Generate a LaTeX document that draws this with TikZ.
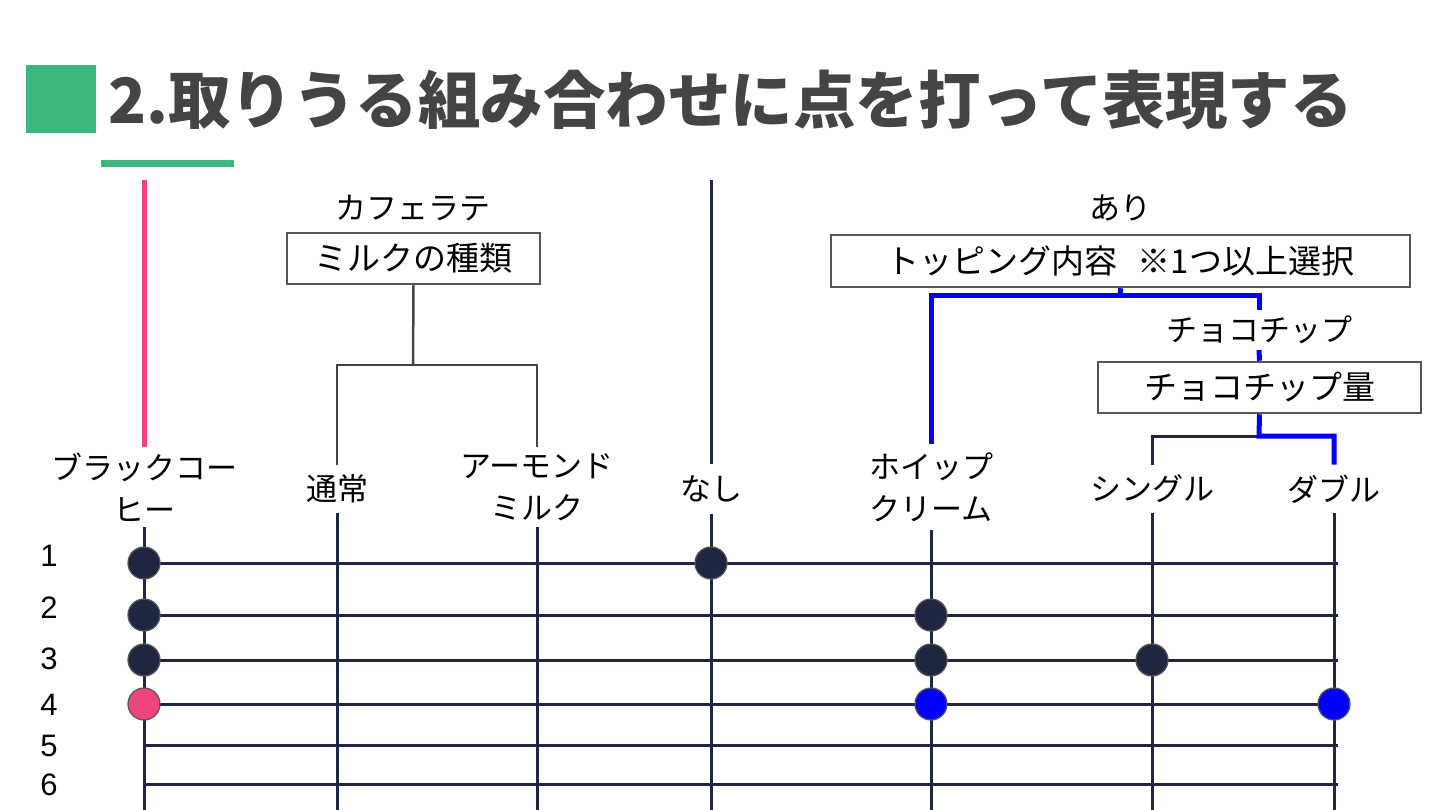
\documentclass[tikz,border=0pt]{standalone}
\usepackage{fontspec}
\newfontfamily\jp{Noto Sans CJK JP}
\newfontfamily\num{Liberation Sans}
\definecolor{tgreen}{RGB}{59,183,126}
\definecolor{tgray}{RGB}{68,68,68}
\definecolor{navy}{RGB}{30,38,64}
\definecolor{bpink}{RGB}{240,68,124}
\definecolor{bblue}{RGB}{0,0,255}
\definecolor{boxgray}{RGB}{85,85,85}
\begin{document}
\begin{tikzpicture}[x=1pt,y=-1pt,
  lbl/.style={font=\jp\fontsize{31}{42}\selectfont,inner sep=0pt,align=center,text=black},
  numlbl/.style={font=\num\fontsize{31}{31}\selectfont,inner sep=0pt,text=black},
  catbox/.style={draw=boxgray,line width=2.5pt,fill=white,font=\jp\fontsize{33}{36}\selectfont,inner sep=0pt,text=black},
  col/.style={draw=navy,line width=3pt},
  rowline/.style={draw=navy,line width=3pt},
  tree/.style={draw=tgray,line width=2.5pt},
  bluepath/.style={draw=bblue,line width=5pt},
  pinkpath/.style={draw=bpink,line width=5pt},
  dot/.style={circle,minimum size=32pt,inner sep=0pt,draw=boxgray,line width=1.2pt,fill=navy},
  pinkdot/.style={dot,fill=bpink},
  bluedot/.style={dot,fill=bblue}]
\useasboundingbox (0,0) rectangle (1440,810);
\fill[white] (0,0) rectangle (1440,810);
% title
\fill[tgreen] (26,65) rectangle (96,133);
\node[anchor=west,inner sep=0pt,font=\jp\bfseries\fontsize{62.5}{62.5}\selectfont,text=tgray] (title) at (108,100) {2.取りうる組み合わせに点を打って表現する};
\fill[tgreen] (101,160) rectangle (234,167);

% labels
\node[lbl,outer sep=6pt] (bc) at (144,487) {ブラックコー\\ヒー};
\node[lbl,outer sep=10pt] (tsujo) at (337,489) {通常};
\node[lbl,outer sep=6pt] (almond) at (537,487) {アーモンド\\ミルク};
\node[lbl,outer sep=12pt] (nashi) at (711,489) {なし};
\node[lbl,outer sep=8pt] (whip) at (931,487) {ホイップ\\クリーム};
\node[lbl,outer sep=10pt] (single) at (1152,489) {シングル};
\node[lbl,outer sep=10pt] (double) at (1334,489) {ダブル};
\node[lbl] (cafe) at (413,208) {カフェラテ};
\node[lbl] (ari) at (1120,208) {あり};
\node[lbl,outer sep=6pt] (choco) at (1259,330) {チョコチップ};

% boxes
\node[catbox,minimum width=253pt,minimum height=51pt] (milk) at (413.5,258.5) {ミルクの種類};
\node[catbox,minimum width=579pt,minimum height=52pt] (topping) at (1120.5,261) {トッピング内容\hspace{20pt}※1つ以上選択};
\node[catbox,minimum width=323pt,minimum height=51pt] (amount) at (1259.5,387.5) {チョコチップ量};

% coordinates
\coordinate (ctop) at (711,180);
\coordinate (ptop) at (144,180);
\coordinate (mj) at (413,365);
\coordinate (ml) at (337,365);
\coordinate (mr) at (537,365);
\coordinate (tj) at (1120,296);
\coordinate (tl) at (931,296);
\coordinate (tr) at (1259,296);
\coordinate (aj) at (1259,436);
\coordinate (al) at (1152,436);
\coordinate (ar) at (1334,436);
\coordinate (b1) at (144,810);
\coordinate (b2) at (337,810);
\coordinate (b3) at (537,810);
\coordinate (b4) at (711,810);
\coordinate (b5) at (931,810);
\coordinate (b6) at (1152,810);
\coordinate (b7) at (1334,810);

% tree connectors
\draw[pinkpath] (ptop) -- (bc.north);
\draw[tree] (milk.south) -- (mj);
\draw[tree] (tsujo.north) -- (ml) -- (mr) -- (almond.north);
\draw[col] (ctop) -- (nashi.north);
\draw[bluepath] (topping.south) -- (tj);
\draw[bluepath] (whip.north) -- (tl) -- (tr) -- (choco.north);
\draw[bluepath] (choco.south) -- (amount.north);
\draw[navy,line width=3pt] (aj) -- (al) -- (single.north);
\draw[bluepath] (amount.south) -- (aj) -- (ar) -- (double.north);

% columns
\draw[col] (bc.south) -- (b1);
\draw[col] (tsujo.south) -- (b2);
\draw[col] (almond.south) -- (b3);
\draw[col] (nashi.south) -- (b4);
\draw[col] (whip.south) -- (b5);
\draw[col] (single.south) -- (b6);
\draw[col] (double.south) -- (b7);

% rows
\foreach \i/\y/\ny in {1/563/556,2/615/608,3/660/659,4/704/705,5/745/746,6/784/785}{
  \node[numlbl] (n\i) at (49,\ny) {\i};
  \coordinate (r\i a) at (144,\y);
  \coordinate (r\i b) at (1338,\y);
  \draw[rowline] (r\i a) -- (r\i b);
}

% dots
\node[dot] (d11) at (144,563) {};
\node[dot] (d14) at (711,563) {};
\node[dot] (d21) at (144,615) {};
\node[dot] (d25) at (931,615) {};
\node[dot] (d31) at (144,660) {};
\node[dot] (d35) at (931,660) {};
\node[dot] (d36) at (1152,660) {};
\node[pinkdot] (d41) at (144,704) {};
\node[bluedot] (d45) at (931,704) {};
\node[bluedot] (d47) at (1334,704) {};
\end{tikzpicture}
\end{document}
